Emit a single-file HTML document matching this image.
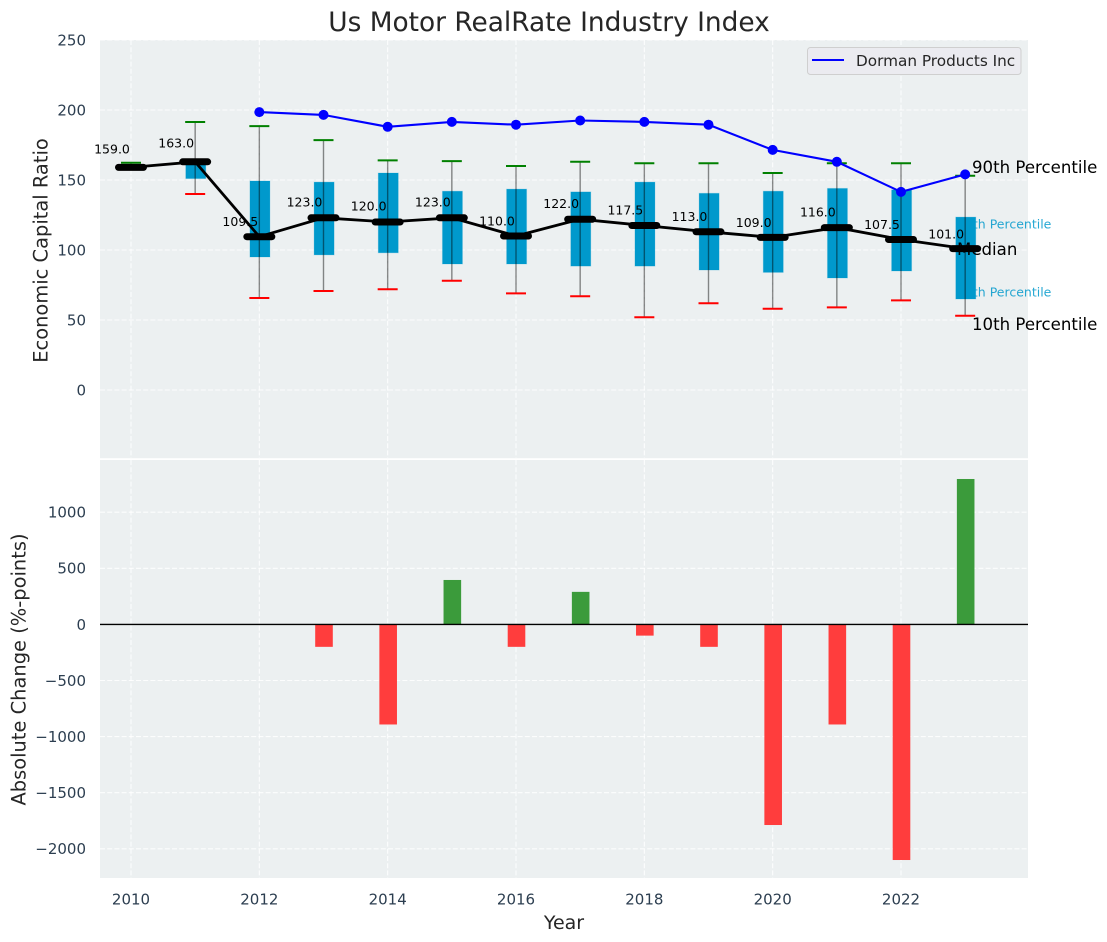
<!DOCTYPE html>
<html lang="en">
<head>
<meta charset="utf-8">
<title>Us Motor RealRate Industry Index</title>
<style>
html,body{margin:0;padding:0;background:#fff;width:1107px;height:942px;overflow:hidden}
svg{display:block;font-family:"DejaVu Sans","Liberation Sans",sans-serif}
</style>
</head>
<body>
<svg id="chart" xmlns="http://www.w3.org/2000/svg" width="1107" height="942" viewBox="0 0 1107 942">
  <rect x="0" y="0" width="1107" height="942" fill="#ffffff"/>
  <rect x="100" y="40" width="928" height="418.2" fill="#ecf0f1"/>
  <rect x="100" y="460" width="928" height="418" fill="#ecf0f1"/>
  <g id="grid"></g>
  <g id="ticks"></g>
  <g id="bars"></g>
  <line x1="100" x2="1028" y1="624.4" y2="624.4" stroke="#000" stroke-width="1.4"/>
  <text x="957" y="228.5" font-size="12.5" fill="#0099cc" opacity="0.85">75th Percentile</text>
  <text x="957" y="296.5" font-size="12.5" fill="#0099cc" opacity="0.85">25th Percentile</text>
  <g id="boxes"></g>
  <g id="whiskers"></g>
  <g id="company"></g>
  <g id="median"></g>
  <text x="549" y="31" font-size="26.4" fill="#262626" text-anchor="middle">Us Motor RealRate Industry Index</text>
  <text transform="translate(47.5,250.5) rotate(-90)" font-size="19.44" fill="#262626" text-anchor="middle">Economic Capital Ratio</text>
  <text transform="translate(25.5,669.5) rotate(-90)" font-size="19.44" fill="#262626" text-anchor="middle">Absolute Change (%-points)</text>
  <text x="564" y="929" font-size="19" fill="#262626" text-anchor="middle">Year</text>
  <text x="972" y="173" font-size="16.6" fill="#000">90th Percentile</text>
  <text x="957" y="255" font-size="16.6" fill="#000">Median</text>
  <text x="972" y="330" font-size="16.6" fill="#000">10th Percentile</text>
  <g>
    <rect x="807.5" y="47.5" width="213.5" height="27" rx="3" fill="#ebebf0" stroke="#cfcfcf" stroke-width="1"/>
    <line x1="812" x2="844" y1="60" y2="60" stroke="#0000ff" stroke-width="2"/>
    <text x="856" y="66" font-size="15.28" fill="#262626">Dorman Products Inc</text>
  </g>
</svg>
<script>
const years = [2010,2011,2012,2013,2014,2015,2016,2017,2018,2019,2020,2021,2022,2023];
const medians = [159,163,109.5,123,120,123,110,122,117.5,113,109,116,107.5,101];
const p90 = [162.3,191.4,188.5,178.5,164,163.5,160,163,162,162,155,162,162,153];
const p75 = [159,163,149.3,148.5,155,142,143.5,141.5,148.5,140.5,142,144,143,123.5];
const p25 = [159,151,95,96.5,98,90,90,88.5,88.5,85.7,84,80,85,65];
const p10 = [158,140,65.7,70.7,72,78,69,67,52,62,58,59,64,53];
const companyYears = [2012,2013,2014,2015,2016,2017,2018,2019,2020,2021,2022,2023];
const companyValues = [198.5,196.5,188,191.5,189.5,192.5,191.5,189.5,171.5,163,141.5,154];
const changeYears = [2013,2014,2015,2016,2017,2018,2019,2020,2021,2022,2023];
const changeValues = [-200,-892,396,-200,290,-100,-200,-1788,-892,-2100,1296];
const xTicks = [2010,2012,2014,2016,2018,2020,2022];
const topTicks = [0,50,100,150,200,250];
const bottomTicks = [-2000,-1500,-1000,-500,0,500,1000];

const NS = 'http://www.w3.org/2000/svg';
function xScale(year){ return 131 + (year - 2010) * 64.167; }
function yTop(v){ return 390 - v * 1.4; }
function yBottom(v){ return 624.4 - v * 0.1122; }
function mk(tag, attrs, parent){
  const el = document.createElementNS(NS, tag);
  for (const k in attrs) el.setAttribute(k, attrs[k]);
  parent.appendChild(el);
  return el;
}
const gridG = document.getElementById('grid');
const ticksG = document.getElementById('ticks');
const barsG = document.getElementById('bars');
const boxesG = document.getElementById('boxes');
const whiskG = document.getElementById('whiskers');
const compG = document.getElementById('company');
const medG = document.getElementById('median');
const gridStyle = {stroke:'#ffffff','stroke-width':1.1,'stroke-dasharray':'5 2.2','stroke-opacity':0.85,fill:'none'};
const tickColor = '#2c3e50';

xTicks.forEach(function(t){
  const x = xScale(t);
  const a = mk('line', Object.assign({x1:x,x2:x,y1:40,y2:458}, gridStyle), gridG);
  
  
  const b = mk('line', Object.assign({x1:x,x2:x,y1:460,y2:878}, gridStyle), gridG);
  
  
  const l = mk('text', {x:x,y:904.5,'font-size':15,fill:tickColor,'text-anchor':'middle'}, ticksG);
  l.textContent = String(t);
  
  
});
topTicks.forEach(function(t){
  const y = yTop(t);
  const a = mk('line', Object.assign({x1:100,x2:1028,y1:y,y2:y}, gridStyle), gridG);
  
  
  const l = mk('text', {x:86,y:y+5.4,'font-size':15,fill:tickColor,'text-anchor':'end'}, ticksG);
  l.textContent = String(t);
  
  
});
bottomTicks.forEach(function(t){
  const y = yBottom(t);
  const a = mk('line', Object.assign({x1:100,x2:1028,y1:y,y2:y}, gridStyle), gridG);
  
  
  const l = mk('text', {x:86,y:y+5.4,'font-size':15,fill:tickColor,'text-anchor':'end'}, ticksG);
  l.textContent = String(t).replace('-', '\u2212');
  
  
});

changeYears.forEach(function(yr, i){
  const v = changeValues[i];
  const y0 = yBottom(0), y1 = yBottom(v);
  const r = mk('rect', {x:xScale(yr)-8.3,y:Math.min(y0,y1),width:17.6,height:Math.abs(y1-y0),
    fill:v>=0?'#3b9b3b':'#ff3d3d'}, barsG);
  
  
});

years.forEach(function(yr, i){
  const x = xScale(yr);
  if (p75[i] > p25[i]) {
    const b = mk('rect', {x:x-9.4,y:yTop(p75[i]),width:20,height:yTop(p25[i])-yTop(p75[i]),fill:'#0099cc',stroke:'#0099cc','stroke-opacity':0.2,'stroke-width':1}, boxesG);
    
    
  }
  const s = mk('line', {x1:x,x2:x,y1:yTop(p90[i]),y2:yTop(p10[i]),stroke:'#000','stroke-opacity':0.45,'stroke-width':1.4}, whiskG);
  
  
  const hi = mk('line', {x1:x-10,x2:x+10,y1:yTop(p90[i]),y2:yTop(p90[i]),stroke:'#008000','stroke-width':2}, whiskG);
  
  
  const lo = mk('line', {x1:x-10,x2:x+10,y1:yTop(p10[i]),y2:yTop(p10[i]),stroke:'#ff0000','stroke-width':2}, whiskG);
  
  
});

const compLine = mk('polyline', {points:companyYears.map(function(yr,i){return xScale(yr)+','+yTop(companyValues[i]);}).join(' '),fill:'none',stroke:'#0000ff','stroke-width':2.1}, compG);


companyYears.forEach(function(yr,i){
  const c = mk('circle', {cx:xScale(yr),cy:yTop(companyValues[i]),r:5,fill:'#0000ff'}, compG);
  
  
});

const medLine = mk('polyline', {points:years.map(function(yr,i){return xScale(yr)+','+yTop(medians[i]);}).join(' '),fill:'none',stroke:'#000','stroke-width':2.8}, medG);


years.forEach(function(yr,i){
  const x = xScale(yr), y = yTop(medians[i]);
  const m = mk('line', {x1:x-12.5,x2:x+12.5,y1:y,y2:y,stroke:'#000','stroke-width':7,'stroke-linecap':'round'}, medG);
  
  
  const t = mk('text', {x:x-19,y:yTop(medians[i]*1.05)-2.9,'font-size':12.5,fill:'#000','text-anchor':'middle'}, medG);
  t.textContent = medians[i].toFixed(1);
  
  
});
</script>
</body>
</html>
